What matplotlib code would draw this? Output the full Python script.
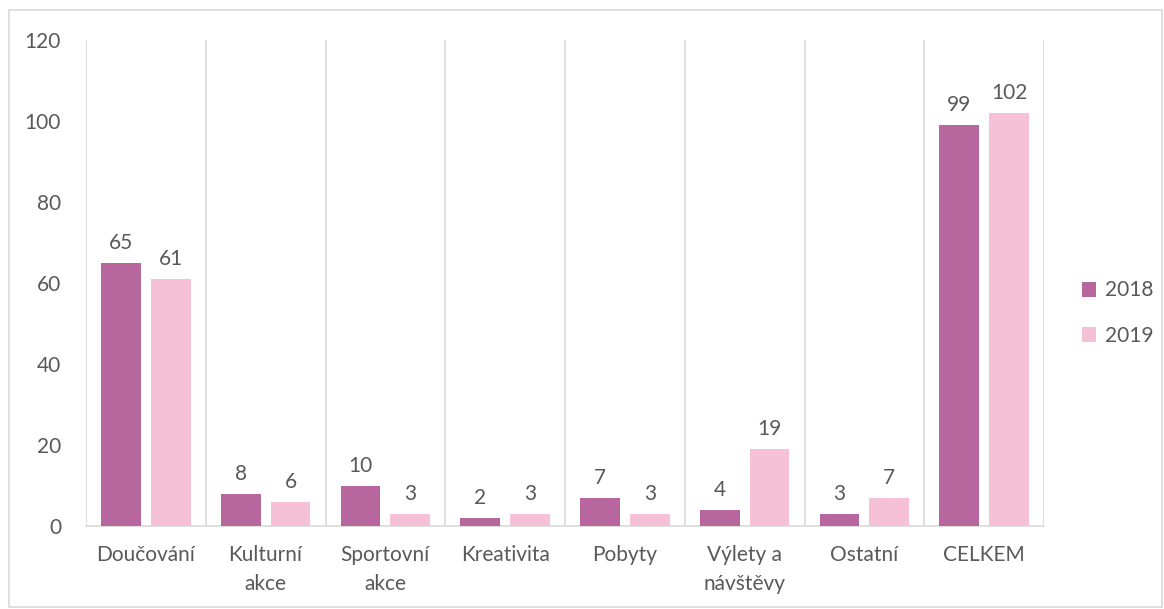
import matplotlib
matplotlib.use("Agg")
import matplotlib.pyplot as plt
import numpy as np
from matplotlib.patches import Rectangle

categories = ["Doučování", "Kulturní\nakce", "Sportovní\nakce", "Kreativita", "Pobyty",
              "Výlety a\nnávštěvy", "Ostatní", "CELKEM"]
values_2018 = [65, 8, 10, 2, 7, 4, 3, 99]
values_2019 = [61, 6, 3, 3, 3, 19, 7, 102]
series_names = ["2018", "2019"]
yticks = [0, 20, 40, 60, 80, 100, 120]

c2018 = "#B7669E"
c2019 = "#F6C1D7"
txt = "#595959"
grid = "#D9D9D9"

plt.rcParams['font.family'] = ['Lato', 'DejaVu Sans']
fs = 15

fig = plt.figure(figsize=(11.64, 6.09), dpi=100)
W, H = 1164, 609
ax = fig.add_axes([86 / W, 1 - 526 / H, (1044 - 86) / W, (526 - 40) / H])

x = np.arange(len(categories))
bw = 0.333
off = 0.208
b1 = ax.bar(x - off, values_2018, bw, color=c2018, label=series_names[0], zorder=3)
b2 = ax.bar(x + off, values_2019, bw, color=c2019, label=series_names[1], zorder=3)

for bars, vals in ((b1, values_2018), (b2, values_2019)):
    for b, v in zip(bars, vals):
        ax.annotate(str(v), (b.get_x() + b.get_width() / 2, v), xytext=(0, 7),
                    textcoords="offset points", ha="center", va="bottom",
                    fontsize=fs, color=txt)

ax.set_xlim(-0.5, len(categories) - 0.5)
ax.set_ylim(0, 120)
ax.set_yticks(yticks)
ax.set_yticklabels([str(t) for t in yticks], fontsize=fs, color=txt)
ax.set_xticks(x)
ax.set_xticklabels(categories, fontsize=fs, color=txt, linespacing=1.55)
ax.tick_params(axis="both", length=0)
ax.tick_params(axis="y", pad=18)
ax.tick_params(axis="x", pad=14)

for b in np.arange(-0.5, len(categories) + 0.5, 1.0):
    ax.axvline(b, color=grid, lw=1.2, zorder=1)

for s in ["top", "right", "left"]:
    ax.spines[s].set_visible(False)
ax.spines["bottom"].set_color(grid)
ax.spines["bottom"].set_linewidth(1.2)

leg = fig.legend(handles=[b1, b2], labels=series_names, loc="center left",
                 bbox_to_anchor=(1063 / W, 1 - 313 / H), frameon=False,
                 fontsize=fs, labelcolor=txt, handlelength=0.7, handleheight=0.7,
                 handletextpad=0.4, labelspacing=1.2)

fig.patches.append(Rectangle((9 / W, 1 - 607 / H), (1162 - 9) / W, (607 - 10) / H,
                             transform=fig.transFigure, fill=False, edgecolor=grid, lw=1.2))

fig.savefig("out.png", dpi=100, facecolor="white")
